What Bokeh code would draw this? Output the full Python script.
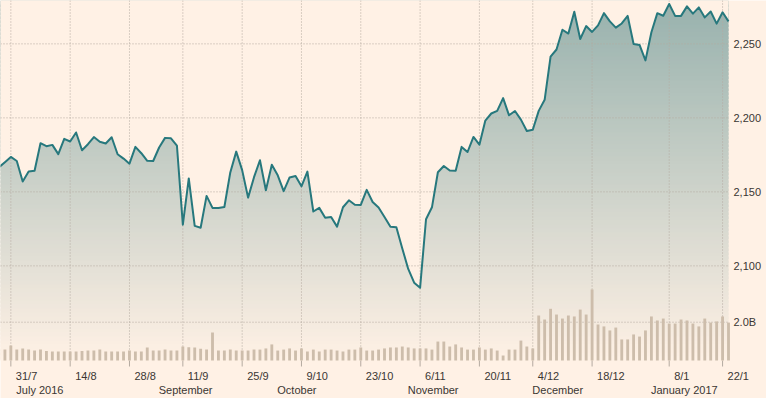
import numpy as np
import pandas as pd
from bokeh.plotting import figure
from bokeh.models import Range1d
from bokeh.core.properties import value
from bokeh.embed import file_html
from bokeh.resources import INLINE

# ---------------- data ----------------
holidays = ["2016-09-05", "2016-11-24", "2016-12-26", "2017-01-02", "2017-01-16"]
dates = [d for d in pd.bdate_range("2016-07-27", "2017-01-23")
         if d.strftime("%Y-%m-%d") not in holidays]

close = [
    2166.58, 2170.06, 2173.60,
    2170.84, 2157.03, 2163.79, 2164.25, 2182.87, 2180.89, 2181.74, 2175.49, 2185.79, 2184.05,
    2190.15, 2178.15, 2182.22, 2187.02, 2183.87, 2182.64, 2186.90, 2175.44, 2172.47, 2169.04,
    2180.38, 2176.12, 2170.95,
    2170.86, 2179.98, 2186.48, 2186.16, 2181.30, 2127.81, 2159.04, 2127.02, 2125.77, 2147.26,
    2139.16, 2139.12, 2139.76, 2163.12, 2177.18, 2164.69, 2146.10, 2159.93, 2171.37, 2151.13,
    2168.27,
    2161.20, 2150.49, 2159.73, 2160.77, 2153.74, 2163.66, 2136.73, 2139.18, 2132.55, 2132.98,
    2126.50, 2139.60, 2144.29, 2141.34, 2141.16, 2151.33, 2143.16, 2139.43, 2133.04, 2126.41,
    2126.15,
    2111.72, 2097.94, 2088.66, 2085.18, 2131.52, 2139.56, 2163.26, 2167.48, 2164.45, 2164.20,
    2180.39, 2176.94, 2187.12, 2181.90, 2198.18, 2202.94, 2204.72, 2213.35, 2201.72, 2204.66,
    2198.81,
    2191.08, 2191.95, 2204.71, 2212.23, 2241.35, 2246.19, 2259.53, 2256.96, 2271.72, 2253.28,
    2262.03, 2258.07, 2262.53, 2270.76, 2265.18, 2260.96, 2263.79, 2268.88, 2249.92, 2249.26,
    2238.83,
    2257.83, 2270.75, 2269.00, 2276.98, 2268.90, 2268.90, 2275.32, 2270.44, 2274.64, 2267.89,
    2271.89, 2263.69, 2271.31, 2265.20,
]

volume_bn = [
    0.57, 0.57, 0.78,
    0.57, 0.63, 0.57, 0.52, 0.57, 0.50, 0.47, 0.47, 0.47, 0.47,
    0.47, 0.50, 0.52, 0.52, 0.57, 0.47, 0.47, 0.47, 0.47, 0.52,
    0.47, 0.47, 0.68,
    0.52, 0.52, 0.57, 0.52, 0.52, 0.73, 0.69, 0.68, 0.61, 0.57,
    1.46, 0.52, 0.52, 0.57, 0.52, 0.52, 0.52, 0.57, 0.57, 0.63,
    0.84,
    0.52, 0.57, 0.63, 0.52, 0.63, 0.47, 0.57, 0.47, 0.57, 0.57,
    0.52, 0.47, 0.57, 0.57, 0.68, 0.52, 0.52, 0.57, 0.63, 0.68,
    0.68,
    0.73, 0.68, 0.63, 0.63, 0.63, 0.57, 0.99, 0.99, 0.73, 0.84,
    0.68, 0.57, 0.57, 0.68, 0.57, 0.63, 0.52, 0.26, 0.57, 0.57,
    1.04,
    0.73, 0.63, 2.35, 2.14, 2.70, 2.40, 2.19, 2.35, 2.30, 2.66,
    2.40, 3.71, 1.88, 1.78, 1.57, 1.72, 1.10, 1.10, 1.36, 1.25,
    1.57,
    2.30, 2.09, 2.19, 1.93, 1.93, 2.14, 2.09, 1.93, 1.78, 2.19,
    1.98, 2.04, 2.30, 1.98,
]

tick_dates = ["2016-07-31", "2016-08-14", "2016-08-28", "2016-09-11", "2016-09-25",
              "2016-10-09", "2016-10-23", "2016-11-06", "2016-11-20", "2016-12-04",
              "2016-12-18", "2017-01-08", "2017-01-22"]
tick_labels = ["31/7", "14/8", "28/8", "11/9", "25/9", "9/10", "23/10", "6/11",
               "20/11", "4/12", "18/12", "8/1", "22/1"]
month_dates = ["2016-07-31", "2016-09-01", "2016-10-01", "2016-11-01", "2016-12-01",
               "2017-01-01"]
month_labels = ["July 2016", "September", "October", "November", "December", "January 2017"]
price_ticks = [2100, 2150, 2200, 2250]
price_labels = ["2,100", "2,150", "2,200", "2,250"]
volume_tick = 2.0
volume_tick_label = "2.0B"

# ---------------- layout ----------------
BG = "#fff1e5"
LINE = "#27787d"
BAR = "#cdbdab"
GRID = "#b4aaa0"
TEXT = "#3a3633"
FONT = "Liberation Sans"
FSIZE = "11px"

W, H = 766, 398
PLOT_W = 728          # data area width (pixels)
BASE = 360            # bar baseline, pixels from top
TICK_LEN = 6
PX_PER_PT = 1.48
P_HI = 2279.3
PX_PER_BN = 19.15
PX_PER_DAY = 5.931
DAY_BASELINE = 375
MONTH_BASELINE = 389

dti = pd.DatetimeIndex(dates)
idx = np.arange(len(dates)) - 1  # first (Jul 27) sits just left of the visible area


def pos(d):
    return int(idx[dti.searchsorted(pd.Timestamp(d), side="right") - 1])


x_end = float(idx[-1])
x_start = x_end - PLOT_W / PX_PER_DAY
x_frame_end = x_start + W / PX_PER_DAY
P_BASE = P_HI - BASE / PX_PER_PT

p = figure(width=W, height=H, output_backend="svg", toolbar_location=None,
           x_range=Range1d(x_start, x_frame_end),
           y_range=Range1d(P_HI - H / PX_PER_PT, P_HI),
           min_border=0, background_fill_color=BG, border_fill_color=BG,
           outline_line_color=None)
p.extra_y_ranges = {"vol": Range1d(-(H - BASE) / PX_PER_BN, BASE / PX_PER_BN),
                    "px": Range1d(H, 0)}
p.axis.visible = False
p.grid.visible = False

# gradient under the line: overlapping bands, then mask above the line
n_bands = 90
edges = np.linspace(P_HI, P_BASE, n_bands + 1)
step = edges[0] - edges[1]
teal = np.array([38, 108, 112])
bgc = np.array([255, 241, 229])
cols = []
for k in range(n_bands):
    t = (k + 0.5) / n_bands
    a = 0.48 * (1 - t)
    c = bgc * (1 - a) + teal * a
    cols.append("#%02x%02x%02x" % tuple(int(round(v)) for v in c))
bottoms = edges[1:] - 0.6 * step
bottoms[-1] = edges[-1]
p.quad(left=x_start - 2, right=x_end, top=edges[:-1], bottom=bottoms,
       fill_color=cols, line_color=None, level="image")
p.varea(x=idx, y1=close, y2=[P_HI + 20] * len(idx), fill_color=BG, level="image")

# dotted grid
tick_pos = [pos(d) for d in tick_dates]
n_t = len(tick_pos)
p.segment(x0=tick_pos, x1=tick_pos, y0=[0] * n_t, y1=[BASE] * n_t, y_range_name="px",
          line_color=GRID, line_dash="1 2", line_width=1)
p.segment(x0=[x_start] * len(price_ticks), x1=[x_end] * len(price_ticks),
          y0=price_ticks, y1=price_ticks, line_color=GRID, line_dash="1 2", line_width=1)
p.segment(x0=[x_start], x1=[x_end], y0=[volume_tick], y1=[volume_tick], y_range_name="vol",
          line_color=GRID, line_dash="1 2", line_width=1)
# tick marks below the bar baseline
p.segment(x0=tick_pos, x1=tick_pos, y0=[BASE] * n_t, y1=[BASE + TICK_LEN] * n_t,
          y_range_name="px", line_color=GRID, line_width=1)

# volume bars and price line
p.vbar(x=idx, top=volume_bn, bottom=0, width=0.48, y_range_name="vol",
       fill_color=BAR, line_color=None)
p.line(x=idx, y=close, line_color=LINE, line_width=2, line_join="round")

# texts
txt = dict(text_font=value(FONT), text_font_size=FSIZE, text_color=TEXT, text_align="left")
p.text(x=[x_end] * len(price_ticks), y=price_ticks, text=price_labels, x_offset=5,
       text_baseline="middle", **txt)
p.text(x=[x_end], y=[volume_tick], text=[volume_tick_label], x_offset=5,
       y_range_name="vol", text_baseline="middle", **txt)
p.text(x=tick_pos, y=[DAY_BASELINE] * n_t, text=tick_labels, x_offset=5,
       y_range_name="px", text_baseline="alphabetic", **txt)
month_pos = [pos(d) for d in month_dates]
p.text(x=month_pos, y=[MONTH_BASELINE] * len(month_pos), text=month_labels, x_offset=5.5,
       y_range_name="px", text_baseline="alphabetic", **txt)

open("out.html", "w").write(file_html(p, INLINE))
